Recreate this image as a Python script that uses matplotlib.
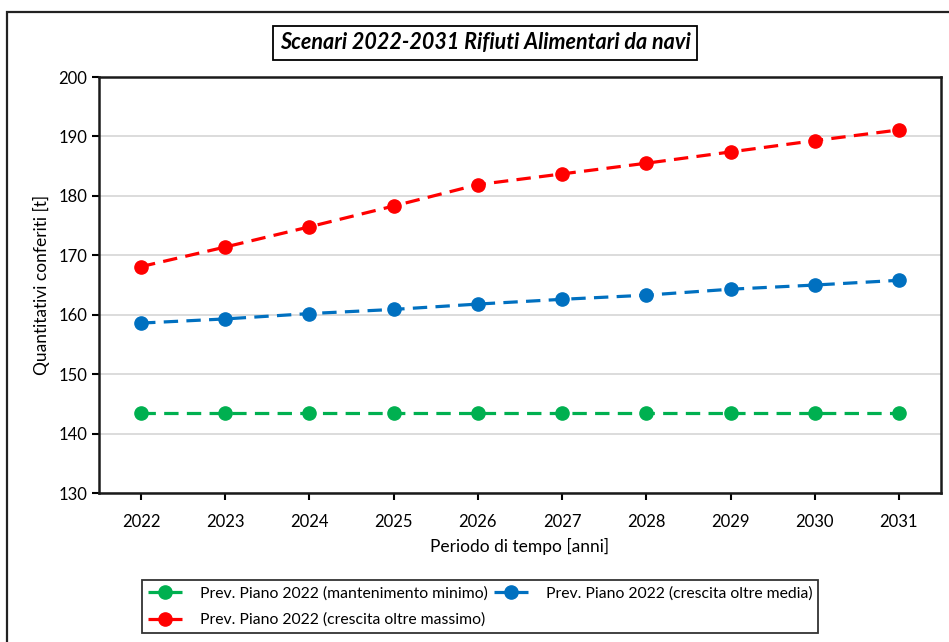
import matplotlib.pyplot as plt
from matplotlib.patches import Rectangle

years = [2022, 2023, 2024, 2025, 2026, 2027, 2028, 2029, 2030, 2031]
minimo = [143.5, 143.5, 143.5, 143.5, 143.5, 143.5, 143.5, 143.5, 143.5, 143.5]
media = [158.6, 159.3, 160.2, 160.9, 161.8, 162.6, 163.3, 164.3, 165.0, 165.8]
massimo = [168.1, 171.4, 174.8, 178.3, 181.9, 183.7, 185.5, 187.4, 189.3, 191.1]
labels = ['Prev. Piano 2022 (mantenimento minimo)',
          'Prev. Piano 2022 (crescita oltre media)',
          'Prev. Piano 2022 (crescita oltre massimo)']

plt.rcParams['font.family'] = ['Lato', 'DejaVu Sans']

fig = plt.figure(figsize=(9.49, 6.42), dpi=100)
ax = fig.add_axes([0.1043, 0.232, 0.8873, 0.648])

# outer frame (cropped chart area)
fig.patches.append(Rectangle((7 / 949, -0.2), 1.5, 1.2 - 12 / 642, transform=fig.transFigure,
                             fill=False, edgecolor='#222222', linewidth=1.6))

style = dict(linestyle='--', dashes=(4.5, 2.6), dash_capstyle='butt', linewidth=2.3,
             marker='o', markersize=9.5, zorder=3)
l_min, = ax.plot(years, minimo, color='#00b050', label=labels[0], **style)
l_med, = ax.plot(years, media, color='#0070c0', label=labels[1], **style)
l_max, = ax.plot(years, massimo, color='#ff0000', label=labels[2], **style)

ax.set_xlim(2021.5, 2031.5)
ax.set_ylim(130, 200)
ax.set_xticks(years)
ax.set_yticks(range(130, 201, 10))
ax.tick_params(axis='both', direction='out', length=5, width=1.5, labelsize=12, colors='black')
ax.tick_params(axis='x', pad=10)
ax.grid(axis='y', color='#d9d9d9', linewidth=1.3)
ax.set_axisbelow(True)
for s in ax.spines.values():
    s.set_linewidth(1.8)
    s.set_color('#1a1a1a')

ax.set_xlabel('Periodo di tempo [anni]', fontsize=12.5, labelpad=6)
ax.set_ylabel('Quantitativi conferiti [t]', fontsize=12.5, labelpad=6)

fig.text(0.511, 1 - 43 / 642, 'Scenari 2022-2031 Rifiuti Alimentari da navi',
         ha='center', va='center', fontsize=15.5, fontweight='bold', fontstyle='italic',
         bbox=dict(boxstyle='square,pad=0.3', facecolor='white', edgecolor='black', linewidth=1.3))

leg = fig.legend(handles=[l_min, l_max, l_med], ncol=2, loc='center',
                 bbox_to_anchor=(0.5058, 0.0553), fontsize=11.3, frameon=True, fancybox=False,
                 edgecolor='black', handlelength=2.2, columnspacing=0.4, handletextpad=1.1,
                 borderpad=0.4, labelspacing=0.8, borderaxespad=0)
leg.get_frame().set_linewidth(1.3)

fig.savefig('out.png', dpi=100)
